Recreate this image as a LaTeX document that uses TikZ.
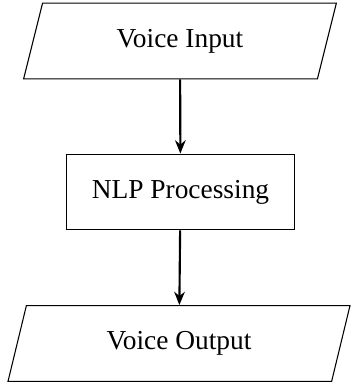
\documentclass[tikz,border=0pt]{standalone}
\usepackage{fontspec}
\setmainfont{Liberation Serif}
\usetikzlibrary{shapes.geometric,arrows.meta}
\begin{document}
\begin{tikzpicture}[x=0.3759pt,y=-0.3759pt,
  iobox/.style={trapezium, trapezium left angle=70, trapezium right angle=110,
    trapezium stretches=true, draw, minimum height=28.5pt, inner sep=0pt, font=\rmfamily\fontsize{10.3}{12}\selectfont},
  procbox/.style={rectangle, draw, minimum width=85.4pt, minimum height=28.5pt, inner sep=0pt, font=\rmfamily\fontsize{10.3}{12}\selectfont},
  flow/.style={thick, -{Stealth[length=5pt,width=4pt]}}]
\useasboundingbox (0,0) rectangle (352,389);
\node[iobox, minimum width=118pt] (in) at (180,41) {Voice Input};
\node[procbox] (nlp) at (180.5,192) {NLP Processing};
\node[iobox, minimum width=129.3pt] (out) at (179,343.5) {Voice Output};
\draw[flow] (in) -- (nlp);
\draw[flow] (nlp) -- (out);
\end{tikzpicture}
\end{document}
